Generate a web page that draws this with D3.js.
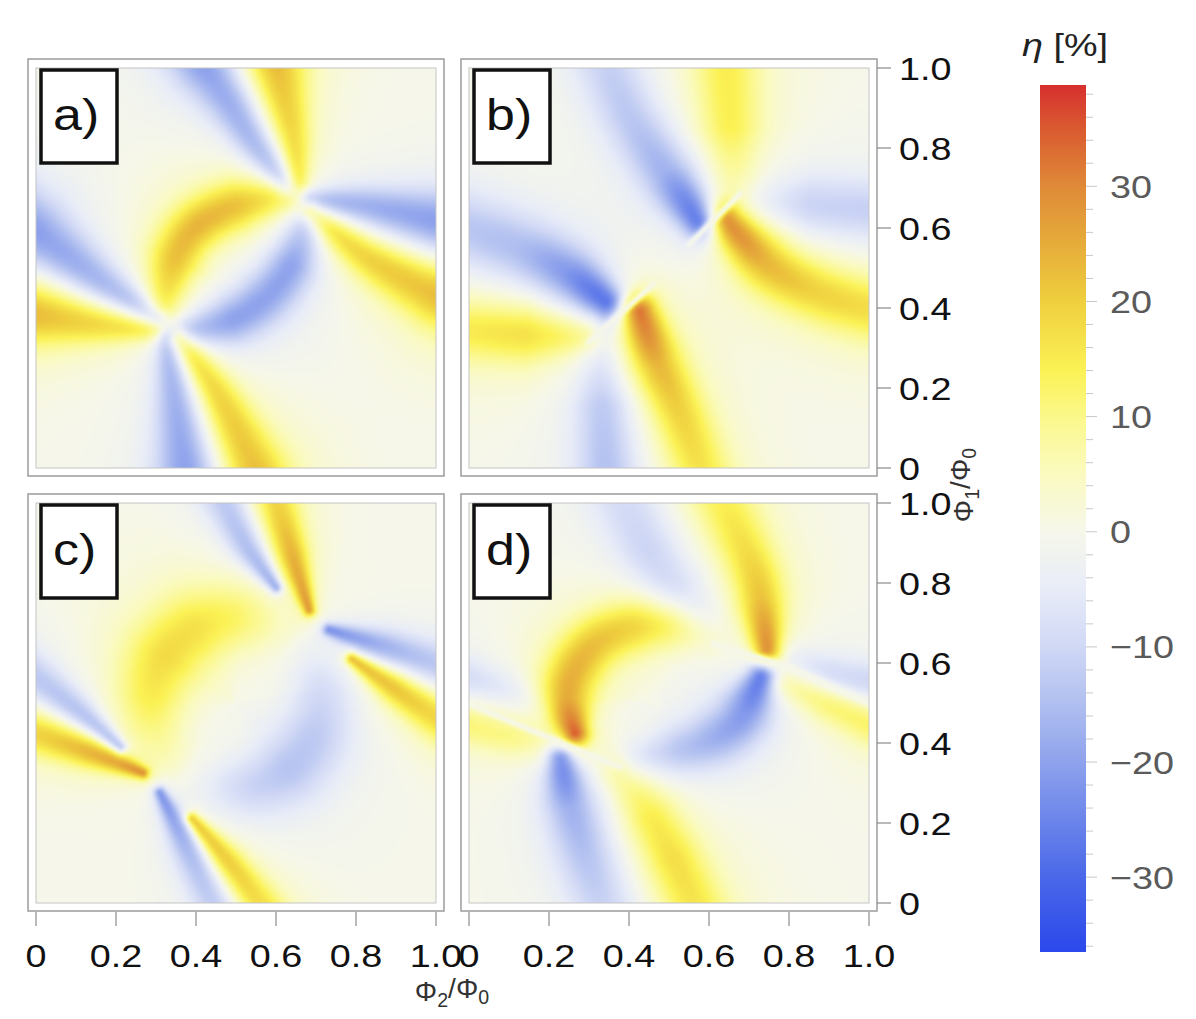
<!DOCTYPE html>
<html>
<head>
<meta charset="utf-8">
<script src="https://cdn.jsdelivr.net/npm/d3@7"></script>
<style>
	html, body { margin: 0; padding: 0; background: #fff; }
	svg { display: block; font-family: 'Liberation Sans', Arial, sans-serif; }
</style>
</head>
<body>
<div id="chart"></div>
<script>
//data
const panelLabels = ['a)', 'b)', 'c)', 'd)'];
const axisTicks = [0, 0.2, 0.4, 0.6, 0.8, 1.0];
const axisTickLabels = ['0', '0.2', '0.4', '0.6', '0.8', '1.0'];
const etaTicks = [-30, -20, -10, 0, 10, 20, 30];
const etaTickLabels = ['\u221230', '\u221220', '\u221210', '0', '10', '20', '30'];
const etaDomain = [-36.5, 38.8];
const etaStops = [-36.5, -30, -20, -15, -10, -5, 0, 5, 10, 14, 20, 25, 30, 35, 38.8];
const etaColors = ['#2b48ec', '#4a68e8', '#8ea2ec', '#b0bff0', '#d0d8f5', '#e8ecf8', '#f6f7ea',
	'#fafac0', '#fbf88a', '#fbf255', '#efcf3e', '#e6ac3a', '#df8a38', '#da5a30', '#d72f2f'];

// ridges of eta: centre line in (phi2, phi1), peak eta and half width along it
const ridgesA = [
	{ pts: [[0.295, 0.345], [0.15, 0.362], [0, 0.386]], v: [16, 24], w: [0.028, 0.08] },
	{ pts: [[0.30, 0.375], [0.15, 0.475], [0, 0.585]], v: [-16, -22], w: [0.028, 0.085] },
	{ pts: [[0.325, 0.322], [0.35, 0.17], [0.377, 0]], v: [-16, -22], w: [0.028, 0.075] },
	{ pts: [[0.36, 0.32], [0.45, 0.19], [0.543, 0]], v: [18, 24], w: [0.028, 0.08] },
	{ pts: [[0.385, 0.345], [0.49, 0.37], [0.575, 0.428], [0.64, 0.511], [0.672, 0.61]], v: [-16, -20, -20, -20, -14], w: [0.04, 0.06, 0.065, 0.06, 0.045] },
	{ pts: [[0.615, 0.676], [0.493, 0.653], [0.393, 0.594], [0.343, 0.511], [0.322, 0.41]], v: [16, 22, 24, 22, 16], w: [0.045, 0.065, 0.065, 0.065, 0.045] },
	{ pts: [[0.628, 0.705], [0.543, 0.82], [0.477, 0.928], [0.427, 1.0]], v: [-16, -22], w: [0.028, 0.075] },
	{ pts: [[0.657, 0.718], [0.643, 0.82], [0.618, 0.928], [0.60, 1.0]], v: [16, 24], w: [0.028, 0.075] },
	{ pts: [[0.69, 0.672], [0.827, 0.653], [1.0, 0.615]], v: [-16, -22], w: [0.028, 0.075] },
	{ pts: [[0.688, 0.64], [0.827, 0.528], [1.0, 0.436]], v: [18, 24], w: [0.028, 0.08] },
];

const ridgesB = [
	{ pts: [[0.345, 0.415], [0.26, 0.478], [0.135, 0.543], [0, 0.593]], v: [-32, -22, -16, -14], w: [0.045, 0.07, 0.085, 0.09] },
	{ pts: [[0.29, 0.33], [0.15, 0.335], [0, 0.345]], v: [12, 18, 16], w: [0.045, 0.075, 0.08] },
	{ pts: [[0.33, 0.32], [0.335, 0.175], [0.345, 0]], v: [-6, -14, -15], w: [0.045, 0.07, 0.075] },
	{ pts: [[0.425, 0.39], [0.468, 0.27], [0.527, 0.134], [0.577, 0]], v: [36, 24, 20, 17], w: [0.045, 0.065, 0.07, 0.075] },
	{ pts: [[0.645, 0.615], [0.76, 0.50], [0.885, 0.435], [1.0, 0.40]], v: [34, 24, 20, 18], w: [0.045, 0.07, 0.075, 0.08] },
	{ pts: [[0.575, 0.62], [0.468, 0.777], [0.40, 0.886], [0.35, 1.0]], v: [-32, -18, -14, -12], w: [0.045, 0.07, 0.075, 0.08] },
	{ pts: [[0.66, 0.69], [0.652, 0.844], [0.643, 1.0]], v: [6, 15, 15], w: [0.055, 0.08, 0.085] },
	{ pts: [[0.70, 0.665], [0.885, 0.652], [1.0, 0.643]], v: [-5, -12, -12], w: [0.055, 0.075, 0.08] },
];

const ridgesC = [
	{ pts: [[0.605, 0.682], [0.5, 0.71], [0.395, 0.682], [0.318, 0.605], [0.29, 0.5], [0.318, 0.395], [0.38, 0.33]], v: [6, 13, 17, 18, 15, 9, 4], w: [0.08, 0.09, 0.1, 0.1, 0.09, 0.08, 0.07] },
	{ pts: [[0.428, 0.303], [0.536, 0.293], [0.635, 0.339], [0.697, 0.428], [0.707, 0.536], [0.672, 0.62]], v: [-6, -11, -14, -13, -10, -5], w: [0.07, 0.08, 0.09, 0.09, 0.08, 0.07] },
	{ pts: [[0.60, 0.79], [0.53, 0.89], [0.475, 1.0]], v: [-22, -18, -15], w: [0.016, 0.04, 0.055] },
	{ pts: [[0.683, 0.733], [0.64, 0.87], [0.60, 1.0]], v: [26, 24, 20], w: [0.016, 0.04, 0.055] },
	{ pts: [[0.733, 0.683], [0.87, 0.64], [1.0, 0.595]], v: [-22, -18, -15], w: [0.016, 0.04, 0.055] },
	{ pts: [[0.79, 0.61], [0.90, 0.535], [1.0, 0.467]], v: [26, 24, 20], w: [0.016, 0.04, 0.055] },
	{ pts: [[0.21, 0.39], [0.11, 0.475], [0, 0.56]], v: [-22, -18, -15], w: [0.016, 0.04, 0.055] },
	{ pts: [[0.267, 0.325], [0.13, 0.38], [0, 0.425]], v: [26, 24, 20], w: [0.016, 0.04, 0.055] },
	{ pts: [[0.31, 0.275], [0.38, 0.14], [0.45, 0]], v: [-22, -18, -15], w: [0.016, 0.04, 0.055] },
	{ pts: [[0.39, 0.21], [0.48, 0.10], [0.555, 0]], v: [26, 24, 20], w: [0.016, 0.04, 0.055] },
];

const ridgesD = [
	{ pts: [[0.265, 0.425], [0.245, 0.50], [0.26, 0.573], [0.318, 0.648], [0.41, 0.69], [0.51, 0.695], [0.595, 0.665]], v: [36, 26, 24, 22, 20, 16, 10], w: [0.035, 0.065, 0.07, 0.07, 0.07, 0.065, 0.05] },
	{ pts: [[0.745, 0.635], [0.735, 0.72], [0.715, 0.82], [0.635, 1.0]], v: [32, 22, 18, 15], w: [0.035, 0.06, 0.07, 0.08] },
	{ pts: [[0.60, 0.68], [0.52, 0.78], [0.45, 0.88], [0.393, 1.0]], v: [-8, -12, -12, -10], w: [0.06, 0.075, 0.08, 0.085] },
	{ pts: [[0.73, 0.565], [0.677, 0.46], [0.60, 0.405], [0.52, 0.38], [0.43, 0.365]], v: [-30, -22, -18, -14, -8], w: [0.035, 0.065, 0.07, 0.065, 0.05] },
	{ pts: [[0.23, 0.362], [0.25, 0.26], [0.29, 0.13], [0.335, 0]], v: [-30, -18, -15, -12], w: [0.035, 0.065, 0.075, 0.08] },
	{ pts: [[0.38, 0.315], [0.45, 0.22], [0.505, 0.12], [0.56, 0]], v: [10, 16, 18, 17], w: [0.05, 0.07, 0.075, 0.08] },
	{ pts: [[0, 0.445], [0.12, 0.41], [0.22, 0.38]], v: [12, 10, 6], w: [0.055, 0.05, 0.045] },
	{ pts: [[0, 0.56], [0.10, 0.53], [0.18, 0.49]], v: [-10, -8, -5], w: [0.055, 0.05, 0.045] },
	{ pts: [[0.82, 0.60], [0.92, 0.565], [1.0, 0.55]], v: [-8, -12, -12], w: [0.045, 0.05, 0.055] },
	{ pts: [[0.80, 0.55], [0.90, 0.50], [1.0, 0.45]], v: [10, 14, 14], w: [0.045, 0.05, 0.055] },
];

// thin lines where eta drops to zero (jumps between blue and red)
const gapsA = [];
const gapsB = [
	[[0.30, 0.315], [0.46, 0.459]],
	[[0.55, 0.558], [0.677, 0.685]],
];
const gapsC = [];
const gapsD = [
	[[0, 0.498], [0.177, 0.423], [0.377, 0.34]],
	[[0.61, 0.648], [0.802, 0.59], [1.0, 0.498]],
];

const panelRidges = [ridgesA, ridgesB, ridgesC, ridgesD];
const panelGaps = [gapsA, gapsB, gapsC, gapsD];

render();

function render() {
	const width = 1196;
	const height = 1019;
	const size = 400;
	const pad = 8;
	const layout = [
		{ x: 36, y: 68 },
		{ x: 469, y: 68 },
		{ x: 36, y: 503 },
		{ x: 469, y: 503 },
	];
	const fontSize = 32;
	const stretch = 1.18;
	const gapWidth = 0.008;

	const svg = d3
		.select('#chart')
		.append('svg')
		.attr('width', width)
		.attr('height', height);

	const color = d3
		.scaleLinear()
		.domain(etaStops)
		.range(etaColors)
		.interpolate(d3.interpolateRgb)
		.clamp(true);

	// helper path for sampling the ridge curves
	const helper = svg.append('g').attr('visibility', 'hidden');
	const line = d3.line().curve(d3.curveCatmullRom.alpha(0.5));

	function prepare(r) {
		const path = helper
			.append('path')
			.attr('d', line(r.pts.map((p) => [p[0] * 1000, p[1] * 1000])))
			.node();
		const len = path.getTotalLength();
		const n = 40;
		let pts = [];
		for (let k = 0; k <= n; k++) {
			const p = path.getPointAtLength((len * k) / n);
			pts.push([p.x / 1000, p.y / 1000]);
		}
		path.remove();
		const onEdge = (p) => p[0] <= 0 || p[0] >= 1 || p[1] <= 0 || p[1] >= 1;
		let ts = pts.map((p, k) => k / n);
		// bands keep going past the frame
		if (onEdge(r.pts[r.pts.length - 1])) {
			const a = pts[n - 1], b = pts[n];
			const dx = b[0] - a[0], dy = b[1] - a[1];
			const l = Math.hypot(dx, dy) || 1;
			pts.push([b[0] + (dx / l) * 0.25, b[1] + (dy / l) * 0.25]);
			ts.push(1);
		}
		if (onEdge(r.pts[0])) {
			const a = pts[1], b = pts[0];
			const dx = b[0] - a[0], dy = b[1] - a[1];
			const l = Math.hypot(dx, dy) || 1;
			pts.unshift([b[0] + (dx / l) * 0.25, b[1] + (dy / l) * 0.25]);
			ts.unshift(0);
		}
		const vs = d3.scaleLinear().domain(r.v.map((d, i) => i / (r.v.length - 1))).range(r.v).clamp(true);
		const ws = d3.scaleLinear().domain(r.w.map((d, i) => i / (r.w.length - 1))).range(r.w).clamp(true);
		return { pts, ts, vs, ws };
	}

	function nearest(p, x, y) {
		let best = Infinity, bk = 0, bu = 0;
		for (let k = 0; k < p.length - 1; k++) {
			const ax = p[k][0], ay = p[k][1];
			const dx = p[k + 1][0] - ax, dy = p[k + 1][1] - ay;
			const l2 = dx * dx + dy * dy;
			let u = l2 > 0 ? ((x - ax) * dx + (y - ay) * dy) / l2 : 0;
			u = u < 0 ? 0 : u > 1 ? 1 : u;
			const ex = ax + u * dx - x, ey = ay + u * dy - y;
			const d2 = ex * ex + ey * ey;
			if (d2 < best) {
				best = d2;
				bk = k;
				bu = u;
			}
		}
		return [best, bk, bu];
	}

	// sharp core plus a soft halo, as the bands fade out slowly
	function profile(q) {
		return 0.78 * Math.exp(-q) + 0.22 * Math.exp(-q / 5);
	}

	function fieldAt(rs, gaps, x, y) {
		let s = 0;
		for (const r of rs) {
			const [d2, k, u] = nearest(r.pts, x, y);
			const t = r.ts[k] + u * (r.ts[k + 1] - r.ts[k]);
			const w = r.ws(t);
			s += r.vs(t) * profile(d2 / (w * w));
		}
		for (const g of gaps) {
			const [d2] = nearest(g, x, y);
			s *= 1 - Math.exp(-d2 / (gapWidth * gapWidth));
		}
		return s;
	}

	const N = 200;

	layout.forEach((pos, idx) => {
		const x = d3.scaleLinear().domain([0, 1]).range([pos.x, pos.x + size]);
		const y = d3.scaleLinear().domain([0, 1]).range([pos.y + size, pos.y]);
		const rs = panelRidges[idx].map(prepare);
		const gaps = panelGaps[idx];

		const canvas = document.createElement('canvas');
		canvas.width = N;
		canvas.height = N;
		const ctx = canvas.getContext('2d');
		const img = ctx.createImageData(N, N);
		for (let j = 0; j < N; j++) {
			const py = y.invert(pos.y + ((j + 0.5) * size) / N);
			for (let i = 0; i < N; i++) {
				const px = x.invert(pos.x + ((i + 0.5) * size) / N);
				const c = d3.rgb(color(fieldAt(rs, gaps, px, py)));
				const o = (j * N + i) * 4;
				img.data[o] = c.r;
				img.data[o + 1] = c.g;
				img.data[o + 2] = c.b;
				img.data[o + 3] = 255;
			}
		}
		ctx.putImageData(img, 0, 0);

		const g = svg.append('g').attr('class', 'panel');

		g.append('rect')
			.attr('x', pos.x - pad)
			.attr('y', pos.y - pad - 1)
			.attr('width', size + pad * 2)
			.attr('height', size + pad * 2 + 1)
			.attr('fill', '#fff')
			.attr('stroke', '#9c9c9c')
			.attr('stroke-width', 1.5);

		g.append('image')
			.attr('href', canvas.toDataURL())
			.attr('x', x(0))
			.attr('y', y(1))
			.attr('width', x(1) - x(0))
			.attr('height', y(0) - y(1))
			.attr('preserveAspectRatio', 'none');

		g.append('rect')
			.attr('x', x(0))
			.attr('y', y(1))
			.attr('width', x(1) - x(0))
			.attr('height', y(0) - y(1))
			.attr('fill', 'none')
			.attr('stroke', '#c4c4c4')
			.attr('stroke-width', 1);

		g.append('rect')
			.attr('x', pos.x + 5)
			.attr('y', pos.y + 2)
			.attr('width', 76)
			.attr('height', 93)
			.attr('fill', '#fff')
			.attr('stroke', '#111')
			.attr('stroke-width', 3.5);

		g.append('text')
			.attr('x', pos.x + 17)
			.attr('y', pos.y + 62)
			.attr('font-size', 44)
			.attr('fill', '#111')
			.text(panelLabels[idx])
			.call(widen, stretch);

		// right axis on b and d
		if (idx === 1 || idx === 3) {
			const ax = g.append('g');
			ax.selectAll('line')
				.data(axisTicks)
				.join('line')
				.attr('x1', x(1) + pad)
				.attr('x2', x(1) + pad + 14)
				.attr('y1', (d) => y(d))
				.attr('y2', (d) => y(d))
				.attr('stroke', '#8a8a8a')
				.attr('stroke-width', 1.2);
			ax.selectAll('text')
				.data(axisTicks)
				.join('text')
				.attr('x', x(1) + 30)
				.attr('y', (d) => y(d))
				.attr('dy', '0.36em')
				.attr('font-size', fontSize)
				.attr('fill', '#111')
				.text((d, i) => axisTickLabels[i])
				.call(widen, stretch);
		}

		// bottom axis on c and d
		if (idx === 2 || idx === 3) {
			const ax = g.append('g');
			ax.selectAll('line')
				.data(axisTicks)
				.join('line')
				.attr('x1', (d) => x(d))
				.attr('x2', (d) => x(d))
				.attr('y1', y(0) + pad + 1)
				.attr('y2', y(0) + pad + 15)
				.attr('stroke', '#8a8a8a')
				.attr('stroke-width', 1.2);
			ax.selectAll('text')
				.data(axisTicks)
				.join('text')
				.attr('x', (d) => x(d))
				.attr('y', y(0) + 64)
				.attr('text-anchor', 'middle')
				.attr('font-size', fontSize)
				.attr('fill', '#111')
				.text((d, i) => axisTickLabels[i])
				.call(widen, stretch);
		}
	});

	helper.remove();

	// axis titles
	const xTitle = svg
		.append('text')
		.attr('x', 452)
		.attr('y', 1001)
		.attr('text-anchor', 'middle')
		.attr('font-size', 28)
		.attr('fill', '#333');
	phiLabel(xTitle, '2');

	const yTitle = svg
		.append('text')
		.attr('transform', translation(973, 485) + ' rotate(-90)')
		.attr('text-anchor', 'middle')
		.attr('font-size', 28)
		.attr('fill', '#333');
	phiLabel(yTitle, '1');

	//colorbar
	const bar = { x: 1040, w: 46, top: 85, bottom: 952 };
	const etaY = d3.scaleLinear().domain(etaDomain).range([bar.bottom, bar.top]);

	const grad = svg
		.append('defs')
		.append('linearGradient')
		.attr('id', 'eta-grad')
		.attr('x1', 0)
		.attr('y1', 1)
		.attr('x2', 0)
		.attr('y2', 0);
	grad.selectAll('stop')
		.data(etaStops)
		.join('stop')
		.attr('offset', (d) => (d - etaDomain[0]) / (etaDomain[1] - etaDomain[0]))
		.attr('stop-color', (d) => color(d));

	svg.append('rect')
		.attr('x', bar.x)
		.attr('y', etaY(etaDomain[1]))
		.attr('width', bar.w)
		.attr('height', etaY(etaDomain[0]) - etaY(etaDomain[1]))
		.attr('fill', 'url(#eta-grad)');

	const minor = d3.range(-36, 39, 2);
	svg.append('g')
		.selectAll('line')
		.data(minor)
		.join('line')
		.attr('x1', bar.x + bar.w)
		.attr('x2', (d) => bar.x + bar.w + (d % 10 === 0 ? 11 : 7))
		.attr('y1', (d) => etaY(d))
		.attr('y2', (d) => etaY(d))
		.attr('stroke', '#c8c8c8')
		.attr('stroke-width', 1);

	svg.append('g')
		.selectAll('text')
		.data(etaTicks)
		.join('text')
		.attr('x', 1110)
		.attr('y', (d) => etaY(d))
		.attr('dy', '0.36em')
		.attr('font-size', fontSize)
		.attr('fill', '#5a5a5a')
		.text((d, i) => etaTickLabels[i])
		.call(widen, stretch);

	const title = svg
		.append('text')
		.attr('x', 1022)
		.attr('y', 56)
		.attr('font-size', fontSize)
		.attr('fill', '#222');
	title.append('tspan').attr('font-style', 'italic').text('\u03b7');
	title.append('tspan').text(' [%]');
	title.call(widen, stretch);
}

//utils
function translation(x, y) {
	return `translate(${x}, ${y})`;
}

function phiLabel(text, sub) {
	text.append('tspan').text('\u03a6');
	text.append('tspan').attr('font-size', '0.7em').attr('dy', '0.3em').text(sub);
	text.append('tspan').attr('dy', '-0.3em').text('/\u03a6');
	text.append('tspan').attr('font-size', '0.7em').attr('dy', '0.3em').text('0');
}

function widen(sel, k) {
	sel.each(function () {
		const len = this.getComputedTextLength();
		d3.select(this)
			.attr('textLength', len * k)
			.attr('lengthAdjust', 'spacingAndGlyphs');
	});
}
</script>
</body>
</html>
